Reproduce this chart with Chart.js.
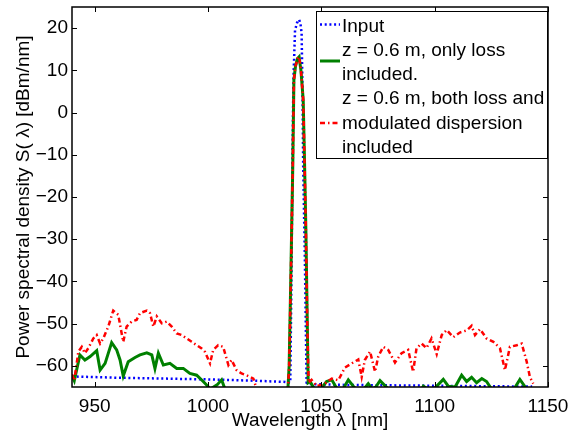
<!DOCTYPE html>
<html>
<head>
<meta charset="utf-8">
<script src="https://cdn.jsdelivr.net/npm/chart.js@4/dist/chart.umd.min.js"></script>
<style>
  body { margin: 0; background: #fff; }
  #wrap { width: 570px; height: 433px; }
</style>
</head>
<body>
<div id="wrap"><canvas id="psdChart" width="570" height="433"></canvas></div>
<script>
// Spectra (wavelength in nm, PSD in dBm/nm)
const inputLambda = [940, 960, 980, 1000, 1020, 1034, 1036.3, 1036.8, 1037.3, 1037.7, 1038.4, 1039.3, 1040.2, 1040.8, 1041.3, 1041.7, 1042, 1042.8, 1043.5, 1044.5, 1060, 1080, 1100, 1120, 1143];
const inputPSD    = [-62.5, -62.8, -63.0, -63.2, -63.5, -63.8, -64, -40, -10, 8, 19.5, 21.3, 22, 21, 18.8, 5, -12.8, -36.6, -64, -64.3, -64.5, -64.6, -64.7, -64.8, -64.9];

const lossLambda = [940, 941, 943.5, 945.7, 948, 950.9, 952.4, 954.6, 957.5, 959.7, 961.2, 962.6, 964.8, 967.8, 970, 973, 975.2, 976.6, 978.1, 980.3, 983.2, 986.2, 989.1, 992, 995, 997.9, 999.5, 1001, 1004, 1006, 1007.5, 1009, 1034, 1035.2, 1035.8, 1036.5, 1037.4, 1037.9, 1038.6, 1039.5, 1040.2, 1041, 1042, 1042.6, 1043.2, 1043.8, 1044.2, 1045, 1047, 1049, 1052.3, 1054.6, 1057, 1059, 1061.9, 1064.1, 1066, 1068, 1070.7, 1072.5, 1074, 1075.9, 1079.6, 1082, 1093, 1095, 1097, 1100, 1103.8, 1106, 1109, 1111.9, 1114.1, 1116.3, 1118.5, 1120.8, 1122.9, 1125.1, 1127, 1133, 1135, 1137.6, 1140.6, 1142];
const lossPSD    = [-62.3, -63.5, -57.4, -58.6, -57.8, -56.4, -61, -59.4, -54.5, -56.2, -58.6, -62.4, -59, -58, -57.4, -56.9, -57.4, -60.6, -57, -59.8, -59.4, -60.6, -60.6, -61.8, -62.2, -63.7, -64.6, -65.5, -64.5, -63.3, -65.5, -70, -70, -66, -60, -40, -12.8, 7.7, 11, 12.8, 13.2, 10, 3, -12, -28.5, -50, -64, -63.7, -65.5, -66, -63.7, -63.3, -65.5, -66, -63.3, -64.8, -66, -66, -64.2, -65.5, -65, -63.5, -65.5, -67, -67, -64.8, -65.5, -65.3, -63.2, -64.8, -65, -62.2, -63.7, -62.7, -64, -63, -63.7, -65.5, -67, -67, -65.5, -63.2, -65.5, -67];

const dispLambda = [940, 941, 942.8, 944.3, 945.7, 947.2, 949.4, 950.9, 952.4, 953.8, 956, 958.2, 960.4, 962.6, 964.1, 966.3, 968.5, 970, 973, 974.4, 975.9, 977.4, 979.6, 981.8, 984, 986.2, 988.4, 990.6, 992.8, 995, 997.2, 998.7, 1000.9, 1002.3, 1004.5, 1006.7, 1009, 1010.4, 1012.6, 1014.8, 1017, 1020, 1021.5, 1023, 1034, 1035.2, 1035.8, 1036.5, 1037.4, 1037.9, 1038.6, 1039.5, 1040.2, 1041, 1042, 1042.6, 1043.2, 1043.8, 1044.4, 1045.7, 1048, 1051.6, 1054.6, 1057.5, 1060.4, 1063.4, 1066.3, 1067.8, 1069.2, 1071.5, 1073.7, 1075.1, 1077.3, 1079.5, 1082.5, 1085.4, 1088.3, 1090.5, 1092, 1094.2, 1096.4, 1098.6, 1100.9, 1103.1, 1105.3, 1108.2, 1111.1, 1114.1, 1116.3, 1117.8, 1120, 1122.9, 1125.9, 1128.8, 1131, 1133.2, 1136.2, 1138.4, 1140.6, 1142, 1143.5];
const dispPSD    = [-62, -63.5, -56.6, -55.5, -57, -55.8, -53.5, -52.7, -54.7, -53.5, -50.7, -46.9, -47.9, -54.3, -50.7, -49.5, -49.1, -47.5, -46.9, -47.5, -50.7, -48.3, -49.9, -49.5, -50.7, -52.3, -52.7, -53.5, -54.3, -55.1, -55.9, -56.7, -59.4, -56.2, -55.1, -55.5, -59.8, -58.6, -61, -61.8, -62.2, -63, -65.5, -70, -70, -66, -60, -40, -12.8, 7.7, 11, 12.8, 13.2, 10, 3, -12, -28.5, -50, -64, -63.3, -64.8, -64.2, -63, -63.4, -60.4, -59.4, -58.5, -62.6, -58.6, -56.6, -61.4, -57.8, -55.5, -56.2, -59.2, -57, -56.2, -61.4, -55.8, -54.7, -55.8, -53.5, -57.2, -52.7, -51.5, -53.2, -52.1, -51.6, -50.5, -52.7, -51.3, -53.5, -54.3, -55.8, -61, -55.5, -55.1, -54.7, -59, -62.6, -64.2];

const xTicks = [950, 1000, 1050, 1100, 1150];
const yTicks = [-60, -50, -40, -30, -20, -10, 0, 10, 20];

const legendRows = [
  'Input',
  'z = 0.6 m, only loss',
  'included.',
  'z = 0.6 m, both loss and',
  'modulated dispersion',
  'included'
];

const FONT = '"Liberation Sans", Arial, Helvetica, sans-serif';

function toPoints(xs, ys) {
  return xs.map((x, i) => ({ x: x, y: ys[i] }));
}

// stop tick labels from pushing the plot box inwards
function noLabelPadding(scale) {
  scale.paddingLeft = 0;
  scale.paddingRight = 0;
  scale.paddingTop = 0;
  scale.paddingBottom = 0;
}

// box round the axes with inward tick marks on all four sides
const frameTicks = {
  id: 'frameTicks',
  afterDatasetsDraw(chart) {
    const { ctx, chartArea: a, scales } = chart;
    const tl = 5;
    ctx.save();
    ctx.strokeStyle = '#000';
    ctx.lineWidth = 1.5;
    ctx.strokeRect(a.left, a.top, a.right - a.left, a.bottom - a.top);
    ctx.lineWidth = 1;
    ctx.beginPath();
    xTicks.forEach(v => {
      const px = Math.round(scales.x.getPixelForValue(v)) + 0.5;
      ctx.moveTo(px, a.bottom); ctx.lineTo(px, a.bottom - tl);
      ctx.moveTo(px, a.top); ctx.lineTo(px, a.top + tl);
    });
    yTicks.forEach(v => {
      const py = Math.round(scales.y.getPixelForValue(v)) + 0.5;
      ctx.moveTo(a.left, py); ctx.lineTo(a.left + tl, py);
      ctx.moveTo(a.right, py); ctx.lineTo(a.right - tl, py);
    });
    ctx.stroke();
    ctx.restore();
  }
};

// matlab-style legend box with wrapped labels
const boxLegend = {
  id: 'boxLegend',
  afterDraw(chart) {
    const ctx = chart.ctx;
    const bx = 316, by = 11, bw = 231, bh = 147;
    ctx.save();
    ctx.fillStyle = '#fff';
    ctx.fillRect(bx, by, bw, bh);
    ctx.strokeStyle = '#000';
    ctx.lineWidth = 1;
    ctx.strokeRect(bx + 0.5, by + 0.5, bw, bh);

    const samples = [
      { y: 24.5, color: '#0000ff', width: 2.5, dash: [2, 2.7] },
      { y: 61, color: '#008000', width: 3, dash: [] },
      { y: 123, color: '#ff0000', width: 2.5, dash: [5, 3, 1.5, 3] }
    ];
    samples.forEach(s => {
      ctx.beginPath();
      ctx.strokeStyle = s.color;
      ctx.lineWidth = s.width;
      ctx.setLineDash(s.dash);
      ctx.moveTo(320, s.y);
      ctx.lineTo(340, s.y);
      ctx.stroke();
    });
    ctx.setLineDash([]);

    ctx.fillStyle = '#000';
    ctx.font = '19px ' + FONT;
    ctx.textBaseline = 'alphabetic';
    ctx.textAlign = 'left';
    legendRows.forEach((t, i) => {
      ctx.fillText(t, 342, 31.7 + i * 24.2);
    });
    ctx.restore();
  }
};

new Chart(document.getElementById('psdChart'), {
  type: 'line',
  data: {
    datasets: [
      {
        label: 'Input',
        data: toPoints(inputLambda, inputPSD),
        borderColor: '#0000ff',
        borderWidth: 2.5,
        borderDash: [2, 2.7],
        pointRadius: 0,
        tension: 0,
        order: 3
      },
      {
        label: 'z = 0.6 m, only loss included.',
        data: toPoints(lossLambda, lossPSD),
        borderColor: '#008000',
        borderWidth: 3,
        pointRadius: 0,
        tension: 0,
        order: 2
      },
      {
        label: 'z = 0.6 m, both loss and modulated dispersion included',
        data: toPoints(dispLambda, dispPSD),
        borderColor: '#ff0000',
        borderWidth: 2.5,
        borderDash: [5, 3, 1.5, 3],
        pointRadius: 0,
        tension: 0,
        order: 1
      }
    ]
  },
  options: {
    responsive: false,
    animation: false,
    clip: 0,
    layout: { padding: { top: 7, right: 22, left: 0, bottom: 0 } },
    plugins: {
      legend: { display: false },
      tooltip: { enabled: false }
    },
    scales: {
      x: {
        type: 'linear',
        min: 940,
        max: 1150,
        afterBuildTicks: scale => { scale.ticks = xTicks.map(v => ({ value: v })); },
        afterFit: scale => { scale.height = 46; noLabelPadding(scale); },
        grid: { display: false, drawTicks: false },
        border: { display: false },
        ticks: {
          color: '#000',
          padding: 8,
          maxRotation: 0,
          font: { family: FONT, size: 19 },
          callback: v => String(v)
        },
        title: {
          display: true,
          text: 'Wavelength λ [nm]',
          color: '#000',
          padding: { top: 0, bottom: 1 },
          font: { family: FONT, size: 19 }
        }
      },
      y: {
        min: -65,
        max: 25,
        afterBuildTicks: scale => { scale.ticks = yTicks.map(v => ({ value: v })); },
        afterFit: scale => { scale.width = 72; noLabelPadding(scale); },
        grid: { display: false, drawTicks: false },
        border: { display: false },
        ticks: {
          color: '#000',
          padding: 4,
          font: { family: FONT, size: 19 },
          callback: v => String(v).replace('-', '\u2212')
        },
        title: {
          display: true,
          text: 'Power spectral density S( λ) [dBm/nm]',
          color: '#000',
          padding: { top: 12, bottom: 0 },
          font: { family: FONT, size: 19 }
        }
      }
    }
  },
  plugins: [frameTicks, boxLegend]
});
</script>
</body>
</html>
